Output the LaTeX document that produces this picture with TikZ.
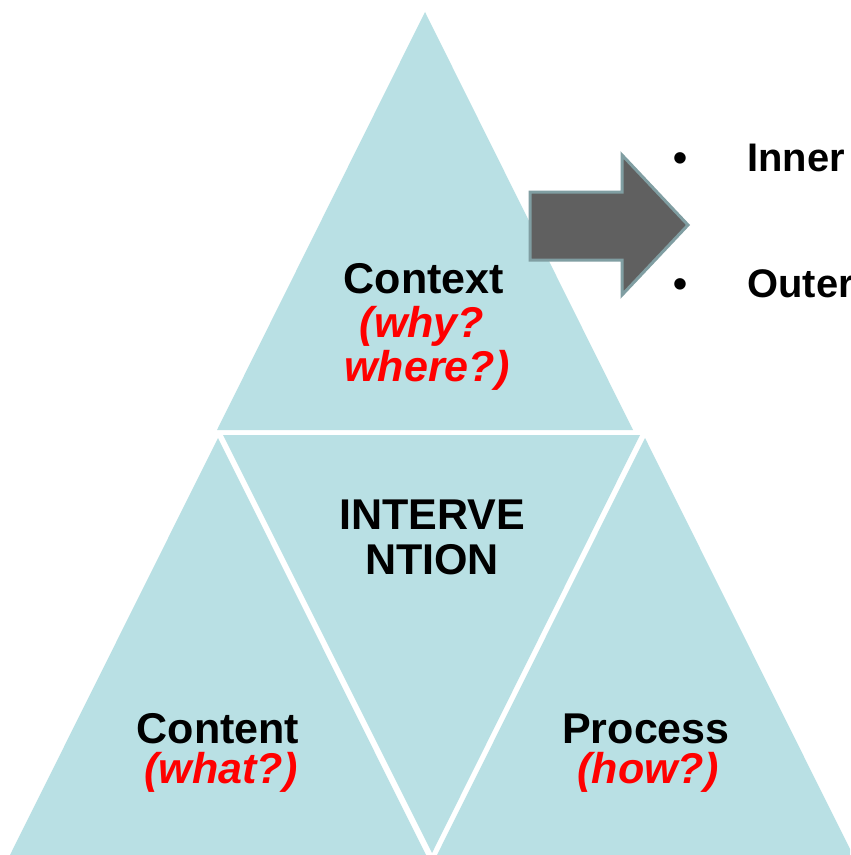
\documentclass[tikz,border=0pt]{standalone}
\usepackage{fontspec}
\setmainfont{Liberation Sans}
\usepackage{xcolor}

\definecolor{tealfill}{RGB}{185,224,228}
\definecolor{arrowfill}{RGB}{96,96,96}
\definecolor{arrowedge}{RGB}{128,158,162}

\tikzset{
  tri/.style={fill=tealfill},
  word/.style={font=\fontsize{24.5}{30}\selectfont\bfseries, anchor=base, inner sep=0pt},
  ask/.style={word, text=red, font=\fontsize{24.5}{30}\selectfont\bfseries\itshape},
  point/.style={word, font=\fontsize{22.7}{28}\selectfont\bfseries}
}

\begin{document}
\begin{tikzpicture}[x=0.02cm, y=-0.02cm]
\clip (0,0) rectangle (850,855);
\fill[white] (0,0) rectangle (850,855);

% the four triangles
\fill[tri] (425,12) -- (217,430) -- (633,430) -- cycle;
\fill[tri] (223,435) -- (640,435) -- (432,853) -- cycle;
\fill[tri] (218,438) -- (10,855) -- (426,855) -- cycle;
\fill[tri] (645,438) -- (437,855) -- (853,855) -- cycle;

% block arrow
\filldraw[fill=arrowfill, draw=arrowedge, line width=0.06cm, line join=miter]
  (530,192) -- (622,192) -- (622,155) -- (688,225) -- (622,295) -- (622,260) -- (530,260) -- cycle;

% labels
\node[word] (context) at (424,293) {Context};
\node[ask] (why) at (422,337) {(why?};
\node[ask] (where) at (427,381) {where?)};

\node[word] (interve) at (432,529) {INTERVE};
\node[word] (ntion) at (432,574) {NTION};

\node[word] (content) at (218,743) {Content};
\node[ask] (what) at (221,783) {(what?)};

\node[word] (process) at (646,743) {Process};
\node[ask] (how) at (648,783) {(how?)};

% bullets
\node[point] (dot1) at (680,172) {•};
\node[point, anchor=base west] (inner) at (747,172) {Inner};
\node[point] (dot2) at (680,297) {•};
\node[point, anchor=base west] (outer) at (747,297) {Outer};
\end{tikzpicture}
\end{document}
